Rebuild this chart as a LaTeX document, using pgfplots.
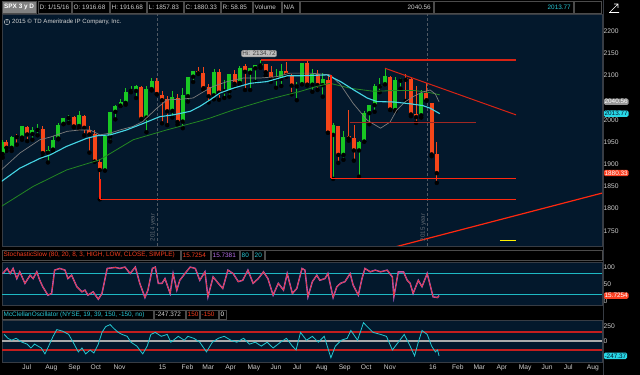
\documentclass[border=0pt]{standalone}
\usepackage{pgfplots}
\pgfplotsset{compat=1.18}
\usepackage{pgfplotstable}
\usepackage{fontspec}
\setmainfont{Liberation Sans}

\definecolor{navy}{RGB}{3,24,44}
\definecolor{frame}{RGB}{55,60,68}
\definecolor{cellbd}{RGB}{75,75,75}
\definecolor{txtgray}{RGB}{205,205,205}
\definecolor{cgreen}{RGB}{25,200,35}
\definecolor{cred}{RGB}{245,70,25}
\definecolor{lvlred}{RGB}{255,40,15}
\definecolor{dred}{RGB}{215,35,20}
\definecolor{brred}{RGB}{160,40,35}
\definecolor{macyan}{RGB}{70,215,230}
\definecolor{magray}{RGB}{125,125,125}
\definecolor{magreen}{RGB}{35,135,35}
\definecolor{stred}{RGB}{235,55,40}
\definecolor{stpurple}{RGB}{185,95,215}
\definecolor{lcyan}{RGB}{30,185,195}
\definecolor{mccyan}{RGB}{35,200,210}
\definecolor{mcred}{RGB}{195,30,30}
\definecolor{zgray}{RGB}{170,170,170}
\definecolor{yearln}{RGB}{80,88,98}
\definecolor{tagred}{RGB}{250,65,35}
\definecolor{tagcyan}{RGB}{40,215,230}
\definecolor{taggray}{RGB}{150,150,150}
\definecolor{hdrred}{RGB}{245,60,30}
\definecolor{hdrpurple}{RGB}{180,110,230}
\definecolor{hdrcyan}{RGB}{40,200,215}
\definecolor{hilab}{RGB}{190,190,190}

\newcommand\tf{\fontsize{6.4bp}{7.5bp}\selectfont}
\newcommand\af{\fontsize{6.7bp}{7.5bp}\selectfont}

\tikzset{tag/.style={anchor=west, font=\tf, inner sep=0.9bp, rounded corners=1.5bp, xshift=1.5bp}}
\pgfplotsset{
  panel/.style={scale only axis, anchor=south west, width=600bp,
    xmin=-210, xmax=600,
    axis background/.style={fill=navy},
    axis line style={draw=frame, line width=0.6bp},
    major tick length=0pt, xtick=\empty,
    yticklabel pos=right,
    yticklabel style={font=\af, text=txtgray, anchor=west, inner sep=1.5bp},
    /pgf/number format/assume math mode=true,
    /pgf/number format/1000 sep={},
    clip mode=individual},
  candle/.style={only marks, mark=none, forget plot,
    error bars/y dir=plus, error bars/y explicit, error bars/error mark=none},
}

% weekly candles: d = days since 2015-01-01 (mid-week), open high low close
\pgfplotstableread{
d o h l c
-209 1923 1955 1915 1949
-197 1937 1964 1930 1962
-183 1960 1985 1955 1985
-169 1968 1983 1955 1978
-162 1977 1991 1965 1978
-148 1926 1942 1904 1931
-141 1933 1964 1928 1955
-134 1958 1993 1956 1988
-127 1991 2005 1990 2003
-120 2004 2011 1993 2007
-106 1986 2020 1979 2010
-71 1886 1965 1886 1964
-64 1962 2018 1951 2018
-57 2018 2034 2001 2032
-50 2032 2046 2031 2039
-43 2038 2071 2034 2063
-36 2065 2075 2062 2067
-29 2065 2079 2049 2075
-15 2005 2077 1972 2070
-8 2069 2094 2066 2088
20 2020 2064 2005 2051
34 1996 2072 1981 2055
41 2053 2097 2041 2097
48 2097 2110 2085 2110
76 2055 2114 2046 2108
90 2064 2089 2049 2067
97 2064 2102 2052 2102
111 2083 2120 2079 2117
125 2106 2117 2067 2116
132 2116 2123 2085 2123
139 2122 2135 2117 2126
160 2092 2115 2072 2094
167 2092 2126 2076 2110
188 2075 2085 2044 2077
195 2080 2128 2080 2127
209 2079 2114 2063 2104
223 2078 2105 2052 2092
237 1966 1993 1867 1989
251 1921 1975 1910 1961
272 1931 1952 1872 1951
279 1951 2020 1951 2015
286 2015 2034 1990 2033
293 2033 2080 2018 2075
300 2075 2094 2062 2079
307 2080 2116 2080 2099
321 2022 2097 2019 2089
328 2088 2095 2070 2090
356 2010 2067 2005 2061
}\upw

\pgfplotstableread{
d o h l c
-204 1950 1955 1930 1937
-190 1962 1968 1944 1961
-176 1984 1986 1952 1967
-155 1979 1985 1916 1925
-113 2007 2008 1983 1985
-99 2009 2010 1965 1982
-92 1978 1986 1926 1967
-85 1967 1977 1906 1906
-78 1905 1912 1821 1887
-22 2074 2075 2002 2002
-1 2088 2093 2057 2058
6 2055 2064 1992 2044
13 2047 2053 1988 2019
27 2050 2058 1989 1995
55 2109 2119 2103 2105
62 2105 2118 2067 2071
69 2073 2081 2039 2053
83 2108 2114 2045 2061
104 2102 2111 2072 2081
118 2120 2126 2067 2108
146 2125 2126 2099 2107
153 2108 2121 2085 2092
174 2110 2130 2097 2101
181 2098 2102 2057 2077
202 2127 2133 2077 2079
216 2104 2112 2067 2078
230 2090 2103 1971 1971
244 1986 1987 1903 1921
258 1963 2021 1953 1958
265 1960 1989 1908 1931
314 2096 2098 2022 2023
335 2094 2104 2042 2090
342 2091 2093 2008 2012
349 2013 2076 1993 2006
363 2060 2082 2043 2044
370 2038 2038 1918 1922
377 1924 1951 1858 1880
}\dnw

\pgfplotstableread{
d p
-211 1887
-186 1925
-159 1955
-145 1961
-122 1974
-105 1977
-91 1977
-78 1966
-64 1970
-51 1977
-33 1985
-20 1996
-1 2026
13 2045
30 2046
48 2049
62 2063
75 2075
94 2086
116 2094
139 2094
161 2097
179 2105
206 2105
233 2101
247 2079
264 2037
283 1999
301 1981
314 1995
323 2022
334 2040
345 2052
357 2062
368 2067
375 2058
380 2040.56
}\magray

\pgfplotstableread{
d p
-211 1861
-186 1891
-159 1913
-145 1921
-123 1940
-96 1958
-82 1964
-64 1966
-42 1977
-19 1992
3 2007
21 2011
44 2019
57 2030
71 2045
84 2060
102 2071
125 2082
148 2086
175 2099
193 2099
229 2101
247 2086
265 2067
283 2049
296 2041
319 2040
341 2036
358 2032
368 2026
381 2013.77
}\macyanT

\pgfplotstableread{
d p
-211 1805
-168 1850
-123 1887
-78 1910
-33 1955
12 1977
57 1997
71 2004
102 2022
148 2045
193 2064
215 2075
233 2082
260 2071
292 2064
323 2066
346 2066
368 2061
381 2056
}\magreenT

\pgfplotstableread{
d v
-209 81
-203 96
-199 81
-195 96
-190 66
-186 86
-179 52
-172 76
-168 66
-163 86
-159 61
-155 42
-148 17
-143 22
-139 91
-132 96
-125 91
-121 66
-116 76
-109 42
-102 27
-98 32
-94 17
-87 27
-80 5
-75 22
-68 96
-57 99
-51 96
-44 100
-37 81
-30 100
-24 52
-17 10
-13 32
-7 96
-3 100
1 52
6 52
10 66
17 22
21 81
26 32
30 61
37 81
44 100
51 96
57 61
64 86
68 12
75 71
82 52
88 37
95 91
102 81
109 57
115 61
122 91
129 52
136 66
143 86
149 66
156 17
163 52
170 32
175 81
182 22
188 37
195 96
199 91
203 12
209 57
215 76
219 61
226 66
230 81
237 10
242 42
247 52
253 57
260 81
264 47
271 17
276 66
280 96
287 86
294 91
301 86
310 91
317 71
319 12
325 86
332 86
337 61
341 52
345 22
352 61
357 42
364 81
368 47
372 12
378 10
380 15.73
}\stoch

\pgfplotstableread{
d v
-207 110
-202 45
-197 13
-191 45
-183 -20
-176 -52
-171 -117
-166 -52
-157 -117
-152 -215
-147 -85
-141 78
-136 190
-128 163
-120 110
-114 -20
-107 -182
-102 -117
-97 -215
-91 -150
-86 -200
-80 -52
-75 143
-70 240
-64 273
-59 208
-53 143
-48 110
-41 78
-36 -20
-28 -85
-20 -215
-14 -85
-9 110
-3 143
5 78
13 110
18 -20
28 78
36 13
41 78
49 45
57 -20
66 -182
74 -20
82 45
90 78
99 13
107 -20
116 45
124 -52
132 -20
140 -85
148 -20
156 -117
166 -20
174 45
182 -85
187 -150
193 143
201 13
209 78
217 -20
225 78
234 -280
240 -85
248 13
256 45
261 175
270 13
278 305
283 240
291 143
301 110
309 78
317 -150
325 -20
333 110
341 -85
347 -247
352 -20
357 175
364 110
370 -85
375 -182
378 -150
380 -247.37
}\mcc

\begin{document}
\begin{tikzpicture}
\useasboundingbox (0bp,0bp) rectangle (640bp,375bp);
\fill[black] (0bp,0bp) rectangle (640bp,375bp);

% ================= MAIN PRICE PANEL =================
\begin{axis}[panel, at={(2bp,129bp)}, height=232bp,
  ymin=1716, ymax=2238, ytick={1750,1800,1850,1900,1950,2000,2100,2150,2200}]
  \addplot[draw=yearln, line width=0.9bp, dash pattern=on 3bp off 2bp, forget plot] coordinates {(0,1716) (0,2238)};
  \addplot[draw=yearln, line width=0.9bp, dash pattern=on 3bp off 2bp, forget plot] coordinates {(365,1716) (365,2238)};
  \addplot[candle, error bars/error bar style={draw=cgreen, line width=0.7bp}]
    table[x=d, y=l, y error expr=\thisrow{h}-\thisrow{l}] {\upw};
  \addplot[candle, error bars/error bar style={draw=cred, line width=0.7bp}]
    table[x=d, y=l, y error expr=\thisrow{h}-\thisrow{l}] {\dnw};
  \addplot[candle, error bars/error bar style={draw=cgreen, line width=4bp}]
    table[x=d, y=o, y error expr=\thisrow{c}-\thisrow{o}] {\upw};
  \addplot[candle, error bars/error bar style={draw=cred, line width=4bp}]
    table[x=d, y=c, y error expr=\thisrow{o}-\thisrow{c}] {\dnw};
  \addplot[draw=magreen, line width=0.8bp, no marks] table[x=d, y=p] {\magreenT};
  \addplot[draw=magray, line width=0.7bp, no marks] table[x=d, y=p] {\magray};
  \addplot[draw=macyan, line width=1.1bp, no marks] table[x=d, y=p] {\macyanT};
  \addplot[draw=dred, line width=1.3bp, no marks] coordinates {(139,2134.72) (484,2134.72)};
  \addplot[draw=lvlred, line width=1.6bp, no marks] coordinates {(-78,1866) (-78,1820.66)};
  \addplot[draw=lvlred, line width=1.6bp, no marks] coordinates {(-78,1820.66) (484,1820.66)};
  \addplot[draw=lvlred, line width=1.6bp, no marks] coordinates {(234,2101) (234,1868)};
  \addplot[draw=lvlred, line width=1.6bp, no marks] coordinates {(234,1868) (484,1868)};
  \addplot[draw=brred, line width=1.2bp, no marks] coordinates {(260,1994) (430,1994)};
  \addplot[draw=dred, line width=1.0bp, no marks] coordinates {(307,2116) (484,2011)};
  \addplot[draw=lvlred, line width=1.2bp, no marks] coordinates {(321,1714) (600,1835)};
  \addplot[draw=yellow, line width=1.3bp, no marks] coordinates {(462,1728) (484,1728)};
  \node[fill=hilab, draw=gray, rounded corners=2bp, inner sep=1bp, font=\tf, text=black!75, anchor=south] at (axis cs:137,2141) {Hi: 2134.72};
  \node[anchor=south, font=\fontsize{6.2bp}{7bp}\selectfont, text=yearln!90!white, rotate=90, inner sep=1.5bp] at (axis cs:0,1758) {2014 year};
  \node[anchor=south, font=\fontsize{6.2bp}{7bp}\selectfont, text=yearln!90!white, rotate=90, inner sep=1.5bp] at (axis cs:365,1758) {2015 year};
  \node[tag, fill=taggray, text=white] at (axis cs:600,2040.56) {2040.56};
  \node[tag, fill=tagcyan, text=navy] at (axis cs:600,2013.77) {2013.77};
  \node[tag, fill=tagred, text=white] at (axis cs:600,1880.33) {1880.33};
\end{axis}

\node[circle, draw=txtgray!80, line width=0.4bp, inner sep=0.1bp, minimum size=5.5bp, font=\fontsize{4.5bp}{5bp}\selectfont\bfseries, text=txtgray] at (7bp,353bp) {!};
\node[anchor=west, font=\fontsize{6.1bp}{7bp}\selectfont, text=txtgray!85, inner sep=0pt] at (12bp,353bp) {2015 \textcopyright\ TD Ameritrade IP Company, Inc.};

% ================= STOCHASTIC PANEL =================
\begin{axis}[panel, at={(2bp,70bp)}, height=43bp, ymin=-12, ymax=115, ytick={0,50,100}]
  \addplot[draw=lcyan, line width=1.1bp, no marks] coordinates {(-210,80) (600,80)};
  \addplot[draw=lcyan, line width=1.1bp, no marks] coordinates {(-210,20) (600,20)};
  \addplot[draw=stpurple, line width=1.4bp, no marks] table[x=d, y=v] {\stoch};
  \addplot[draw=stred, line width=0.6bp, no marks] table[x=d, y=v] {\stoch};
  \node[tag, fill=tagred, text=white] at (axis cs:600,15.7254) {15.7254};
\end{axis}

% ================= McCLELLAN PANEL =================
\begin{axis}[panel, at={(2bp,13bp)}, height=42bp, ymin=-350, ymax=350, ytick={0,250},
  xtick={-184,-153,-122,-92,-61,0,31,59,90,120,151,181,212,243,273,304,365,396,425,456,486,517,547,578},
  xticklabels={Jul,Aug,Sep,Oct,Nov,15,Feb,Mar,Apr,May,Jun,Jul,Aug,Sep,Oct,Nov,16,Feb,Mar,Apr,May,Jun,Jul,Aug},
  xticklabel style={font=\af, text=txtgray, anchor=north west, inner sep=1bp, yshift=-1.5bp}]
  \addplot[draw=mcred, line width=1.3bp, no marks] coordinates {(-210,150) (600,150)};
  \addplot[draw=mcred, line width=1.3bp, no marks] coordinates {(-210,-150) (600,-150)};
  \addplot[draw=zgray, line width=1.2bp, no marks] coordinates {(-210,0) (600,0)};
  \addplot[draw=mccyan, line width=0.8bp, no marks] table[x=d, y=v] {\mcc};
  \node[tag, fill=tagcyan, text=navy] at (axis cs:600,-247.37) {-247.37};
\end{axis}

% ================= HEADERS =================
\newcommand\hcell[5]{%
  \draw[draw=cellbd, fill=black, line width=0.5bp] (#1bp,#3bp) rectangle (#2bp,#4bp);
  \node[anchor=west, font=\tf, inner sep=0pt] at ({(#1+1.5)*1bp},{(#3+#4)/2*1bp}) {#5};}
\newcommand\rcell[5]{%
  \draw[draw=cellbd, fill=black, line width=0.5bp] (#1bp,#3bp) rectangle (#2bp,#4bp);
  \node[anchor=east, font=\tf, inner sep=0pt] at ({(#2-2)*1bp},{(#3+#4)/2*1bp}) {#5};}

\draw[draw=cellbd, fill=cellbd!70, line width=0.5bp] (2bp,362bp) rectangle (36bp,374bp);
\node[anchor=west, font=\tf\bfseries, text=white, inner sep=0pt] at (4bp,368bp) {SPX 3 y D};
\hcell{38}{71}{362}{374}{\color{txtgray}D: 1/15/16}
\hcell{72}{109}{362}{374}{\color{txtgray}O: 1916.68}
\hcell{110}{146}{362}{374}{\color{txtgray}H: 1916.68}
\hcell{147}{183}{362}{374}{\color{txtgray}L: 1857.83}
\hcell{184}{220}{362}{374}{\color{txtgray}C: 1880.33}
\hcell{221}{252}{362}{374}{\color{txtgray}R: 58.85}
\hcell{253}{281}{362}{374}{\color{txtgray}Volume}
\hcell{282}{299}{362}{374}{\color{txtgray}N/A}
\rcell{300}{433}{362}{374}{\color{txtgray}2040.56}
\rcell{434}{573}{362}{374}{\color{hdrcyan}2013.77}
\draw[draw=cellbd, line width=0.5bp] (574bp,362bp) rectangle (601bp,374bp);
\draw[draw=frame, line width=0.6bp] (603bp,0bp) -- (603bp,375bp);
\draw[white, line width=0.6bp] (610bp,363bp) -- (618bp,371bp) (614bp,371bp) -- (618bp,371bp) -- (618bp,367bp) (609bp,362.5bp) -- (619bp,362.5bp);

\hcell{2}{180}{115}{125}{\color{hdrred}StochasticSlow (80, 20, 8, 3, HIGH, LOW, CLOSE, SIMPLE)}
\hcell{181}{210}{115}{125}{\color{hdrred}15.7254}
\hcell{211}{239}{115}{125}{\color{hdrpurple}15.7381}
\hcell{240}{252}{115}{125}{\color{hdrcyan}80}
\hcell{253}{264}{115}{125}{\color{hdrcyan}20}
\draw[draw=cellbd, line width=0.5bp] (265bp,115bp) rectangle (602bp,125bp);

\hcell{2}{153}{56}{65}{\color{hdrcyan}McClellanOscillator (NYSE, 19, 39, 150, -150, no)}
\hcell{154}{185}{56}{65}{\color{txtgray}-247.372}
\hcell{186}{199}{56}{65}{\color{hdrred}150}
\hcell{200}{218}{56}{65}{\color{hdrred}-150}
\hcell{219}{226}{56}{65}{\color{white}0}
\end{tikzpicture}
\end{document}
